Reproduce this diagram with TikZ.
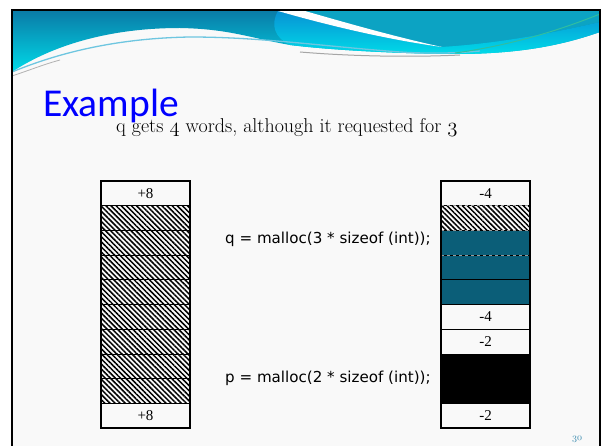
\documentclass[tikz,border=0pt]{standalone}
\usepackage{fontspec}
\newfontfamily\titlefont{Carlito}
\newfontfamily\codefont{DejaVu Sans}
\newfontfamily\cellfont{Liberation Serif}
\usetikzlibrary{patterns.meta}
\definecolor{tealcell}{RGB}{11,94,120}
\definecolor{slidebg}{RGB}{249,249,249}
\definecolor{bannerdark}{RGB}{10,122,166}
\definecolor{bannercyan}{RGB}{0,218,232}
\definecolor{bannerteal}{RGB}{12,163,195}
\definecolor{bannerblue}{RGB}{8,146,212}
\definecolor{wavelight}{RGB}{110,198,224}
\definecolor{wavegreen}{RGB}{48,190,160}
\definecolor{pagenum}{RGB}{60,140,176}
\definecolor{titleblue}{RGB}{0,0,255}
\begin{document}
\begin{tikzpicture}[x=1pt,y=-1pt,
  cell/.style={draw=black, line width=0.8pt, minimum width=89pt, minimum height=24.7pt,
    inner sep=0pt, outer sep=0pt, anchor=north west,
    font=\cellfont\fontsize{15}{15}\selectfont},
  hatchcell/.style={cell, pattern={Lines[angle=-45,distance=3.6pt,line width=1.5pt]}},
  tealbox/.style={cell, fill=tealcell},
  blackbox/.style={cell, fill=black, minimum height=49.4pt},
  colframe/.style={draw=black, line width=2pt},
  dashsep/.style={draw=white!60!black, line width=0.8pt, dashed},
  codetext/.style={anchor=base west, inner sep=0pt, font=\codefont\fontsize{15.1}{15}\selectfont}
]
\useasboundingbox (0,0) rectangle (602,446);
\fill[white] (0,0) rectangle (602,446);
\fill[slidebg] (12,10) rectangle (600,446);

% banner
\shade[top color=bannerdark, bottom color=bannercyan]
  (12,10) -- (600,10) -- (600,32) .. controls (560,46) and (520,53) .. (465,54)
  .. controls (400,54) and (330,50) .. (290,45) .. controls (250,38) and (230,29) .. (180,28)
  .. controls (100,28) and (45,50) .. (12,72) -- cycle;
\fill[bannerteal] (300,11) -- (600,11) -- (600,22) .. controls (540,36) and (490,44) .. (440,47)
  .. controls (400,38) and (350,24) .. (300,11) -- cycle;
\shade[top color=bannerblue, bottom color=bannercyan]
  (278,11) .. controls (330,26) and (390,40) .. (442,47) .. controls (490,44) and (540,36) .. (600,22)
  -- (600,32) .. controls (560,46) and (520,53) .. (465,54)
  .. controls (400,54) and (330,50) .. (290,45) .. controls (275,38) and (270,25) .. (278,11) -- cycle;
\fill[white] (278,11) -- (305,11) .. controls (350,24) and (400,38) .. (442,47)
  .. controls (390,40) and (330,26) .. (278,11) -- cycle;
\draw[wavelight, line width=1.3pt] (12,72) .. controls (70,48) and (130,38) .. (190,37)
  .. controls (260,37) and (320,46) .. (400,52) .. controls (430,54) and (460,53) .. (480,51);
\draw[wavegreen, line width=1pt] (455,53) .. controls (520,44) and (570,26) .. (600,14);
\draw[gray!70, line width=1pt] (300,52) .. controls (360,57) and (420,57) .. (460,55);
\draw[gray!60, line width=0.8pt] (12,76) .. controls (30,70) and (45,64) .. (60,60);

% frame
\draw[line width=2pt] (12,447) -- (12,10) -- (600,10) -- (600,447);

% title and subtitle
\node[anchor=base west, inner sep=0pt, text=titleblue, font=\titlefont\fontsize{39.5}{40}\selectfont]
  (title) at (43,117) {Example};
\node[anchor=base west, inner sep=0pt, font=\fontsize{20}{20}\selectfont]
  (subtitle) at (116,133) {q gets \legacyoldstylenums{4} words, although it requested for \legacyoldstylenums{3}};

% left column
\node[cell] (l0) at (101,181) {+8};
\foreach \i in {1,...,8} {
  \node[hatchcell] (l\i) at (101,{181+\i*24.7}) {};
}
\node[cell] (l9) at (101,{181+9*24.7}) {+8};
\draw[colframe] (l0.north west) rectangle (l9.south east);

% right column
\node[cell] (r0) at (441,181) {-4};
\node[hatchcell] (r1) at (441,{181+1*24.7}) {};
\node[tealbox] (r2) at (441,{181+2*24.7}) {};
\node[tealbox] (r3) at (441,{181+3*24.7}) {};
\node[tealbox] (r4) at (441,{181+4*24.7}) {};
\draw[dashsep] (r1.north west) -- (r1.north east);
\draw[dashsep] (r2.north west) -- (r2.north east);
\draw[dashsep] (r3.north west) -- (r3.north east);
\node[cell] (r5) at (441,{181+5*24.7}) {-4};
\node[cell] (r6) at (441,{181+6*24.7}) {-2};
\node[blackbox] (r7) at (441,{181+7*24.7}) {};
\node[cell] (r9) at (441,{181+9*24.7}) {-2};
\draw[colframe] (r0.north west) rectangle (r9.south east);

% code labels
\node[codetext] (qcode) at (225,244) {q = malloc(3 * sizeof (int));};
\node[codetext] (pcode) at (225,382) {p = malloc(2 * sizeof (int));};

% page number
\node[anchor=base, inner sep=0pt, text=pagenum, font=\fontsize{10}{10}\selectfont]
  (pnum) at (577,440) {\legacyoldstylenums{30}};
\end{tikzpicture}
\end{document}
